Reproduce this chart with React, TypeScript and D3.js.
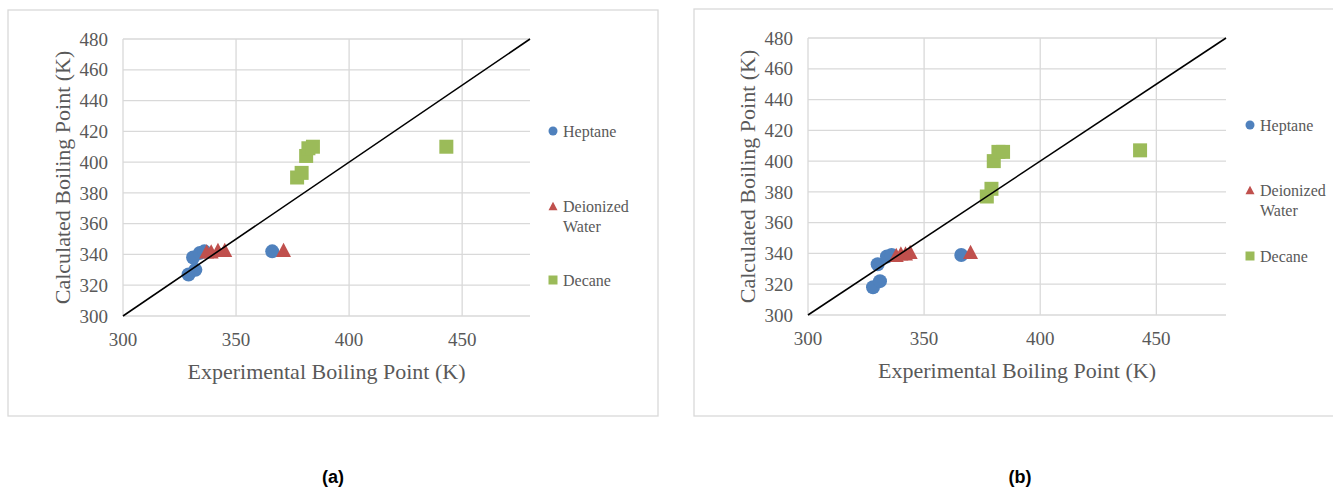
import React from "react";
import * as d3 from "d3";

const xTicks = [300, 350, 400, 450];
const yTicks = [300, 320, 340, 360, 380, 400, 420, 440, 460, 480];
const seriesNames = ["Heptane", "Deionized Water", "Decane"];
const seriesColors = ["#4F81BD", "#C0504D", "#9BBB59"];

// panel (a) points [experimental, calculated]
const heptaneA = [[329, 327], [332, 330], [331, 338], [334, 341], [336, 342], [366, 342]];
const waterA = [[337, 342], [339, 342], [342, 343], [345, 343], [371, 343]];
const decaneA = [[377, 390], [379, 393], [381, 404], [382, 409], [384, 410], [443, 410]];

// panel (b) points
const heptaneB = [[328, 318], [331, 322], [330, 333], [334, 338], [336, 339], [366, 339]];
const waterB = [[338, 339], [340, 340], [342, 340], [344, 341], [370, 341]];
const decaneB = [[377, 377], [379, 382], [380, 400], [382, 406], [384, 406], [443, 407]];

const parity = [[300, 300], [480, 480]];

const FONT = "'Liberation Serif', 'DejaVu Serif', serif";
const TXT = "#595959";
const GRID = "#D9D9D9";

const marker = (kind: number, s: number) => {
  if (kind === 0) return d3.symbol().type(d3.symbolCircle).size(Math.PI * (s / 2) * (s / 2))()!;
  if (kind === 2) return `M${-s / 2},${-s / 2}h${s}v${s}h${-s}Z`;
  const h = s * 0.95;
  return `M0,${-h / 2}L${s / 2},${h / 2}L${-s / 2},${h / 2}Z`;
};

type PanelProps = {
  box: number[];
  plot: number[];
  legendX: number;
  legendY: number[];
  label: string;
  labelX: number;
  data: number[][][];
};

const Panel = ({ box, plot, legendX, legendY, label, labelX, data }: PanelProps) => {
  const [px0, px1, py0, py1] = plot;
  const x = d3.scaleLinear().domain([300, 480]).range([px0, px1]);
  const y = d3.scaleLinear().domain([300, 480]).range([py1, py0]);
  const line = d3.line<number[]>().x((d) => x(d[0])).y((d) => y(d[1]));
  const midY = (py0 + py1) / 2;

  return (
    <g>
      <rect x={box[0]} y={box[1]} width={box[2]} height={box[3]} fill="#fff" stroke={GRID} strokeWidth={1.3} />
      {yTicks.map((t) => (
        <line key={"h" + t} x1={px0} x2={px1} y1={y(t)} y2={y(t)} stroke={GRID} strokeWidth={1.3} />
      ))}
      {xTicks.map((t) => (
        <line key={"v" + t} x1={x(t)} x2={x(t)} y1={py0} y2={py1} stroke={GRID} strokeWidth={1.3} />
      ))}
      {yTicks.map((t) => (
        <text key={"yl" + t} x={px0 - 15} y={y(t)} dy="0.35em" textAnchor="end" fontFamily={FONT} fontSize={19} fill={TXT}>
          {t}
        </text>
      ))}
      {xTicks.map((t) => (
        <text key={"xl" + t} x={x(t)} y={py1 + 30} textAnchor="middle" fontFamily={FONT} fontSize={19} fill={TXT}>
          {t}
        </text>
      ))}
      <text x={(px0 + px1) / 2} y={py1 + 63} textAnchor="middle" fontFamily={FONT} fontSize={22} fill={TXT}>
        Experimental Boiling Point (K)
      </text>
      <text
        transform={`translate(${px0 - 53},${midY}) rotate(-90)`}
        textAnchor="middle"
        fontFamily={FONT}
        fontSize={22}
        fill={TXT}
      >
        Calculated Boiling Point (K)
      </text>
      {data.map((pts, i) =>
        pts.map((p, j) => (
          <path key={i + "-" + j} d={marker(i, i === 1 ? 15 : 14)} transform={`translate(${x(p[0])},${y(p[1])})`} fill={seriesColors[i]} />
        ))
      )}
      <path d={line(parity)!} fill="none" stroke="#000" strokeWidth={1.6} />
      {seriesNames.map((name, i) => {
        const words = name.split(" ");
        return (
          <g key={name} transform={`translate(${legendX},${legendY[i]})`}>
            <path d={marker(i, 9)} fill={seriesColors[i]} />
            <text x={10} y={0} dy="0.35em" fontFamily={FONT} fontSize={16} fill={TXT}>
              {words[0]}
            </text>
            {words[1] && (
              <text x={10} y={20} dy="0.35em" fontFamily={FONT} fontSize={16} fill={TXT}>
                {words[1]}
              </text>
            )}
          </g>
        );
      })}
      <text x={labelX} y={483} textAnchor="middle" fontFamily="'Liberation Sans', Arial, sans-serif" fontWeight="bold" fontSize={18} fill="#000">
        {label}
      </text>
    </g>
  );
};

export default function App() {
  return (
    <svg width={1333} height={488} style={{ position: "absolute", left: 0, top: 0 }}>
      <rect width={1333} height={488} fill="#fff" />
      <Panel
        box={[8, 10, 650, 406]}
        plot={[123, 530, 39, 316]}
        legendX={553}
        legendY={[131, 206, 280]}
        label="(a)"
        labelX={333}
        data={[heptaneA, waterA, decaneA]}
      />
      <Panel
        box={[694, 9, 660, 407]}
        plot={[808, 1226, 38, 315]}
        legendX={1250}
        legendY={[125, 190, 256]}
        label="(b)"
        labelX={1020}
        data={[heptaneB, waterB, decaneB]}
      />
    </svg>
  );
}
